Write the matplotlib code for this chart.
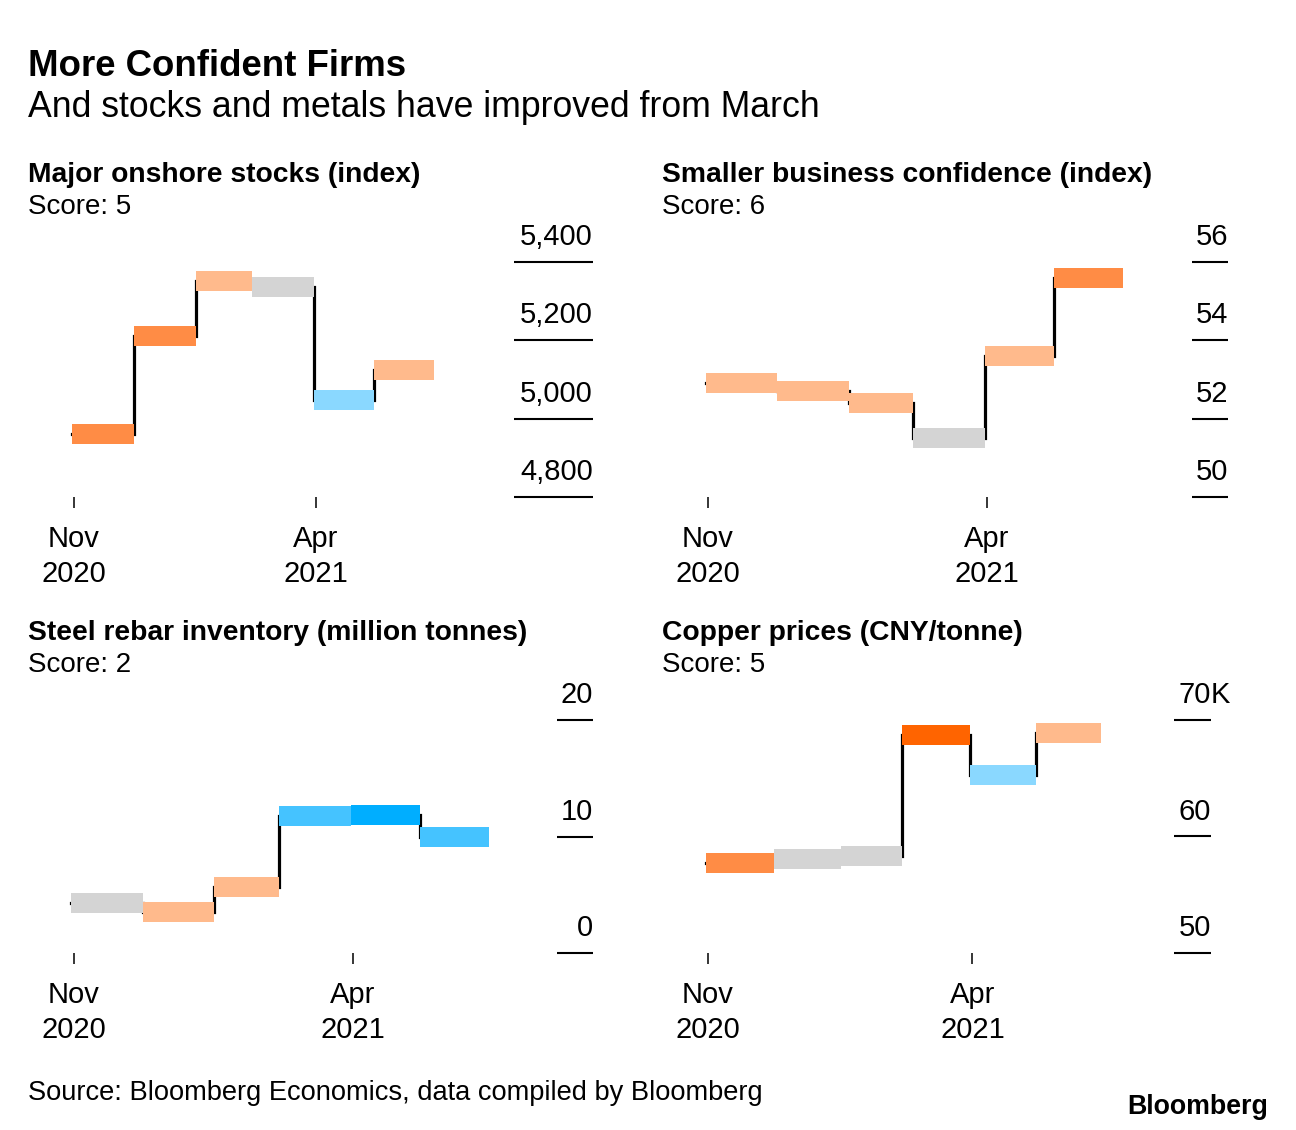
import numpy as np
import matplotlib
matplotlib.use("Agg")
import matplotlib.pyplot as plt
import matplotlib.dates as mdates
import matplotlib.transforms as mtransforms

plt.rcParams['font.family'] = ['Liberation Sans', 'DejaVu Sans']

# ---------------- data ----------------
dates = np.array(["2020-11-30", "2020-12-31", "2021-01-31", "2021-02-28",
                  "2021-03-31", "2021-04-30"], dtype="datetime64[D]")
end_date = np.datetime64("2021-05-30")
xtick_dates = np.array(["2020-12-01", "2021-04-01"], dtype="datetime64[D]")
xtick_labels = ["Nov\n2020", "Apr\n2021"]

stocks = [4960, 5211, 5352, 5337, 5048, 5123]
sme = [52.9, 52.7, 52.4, 51.5, 53.6, 55.6]
rebar = [4.3, 3.5, 5.7, 11.8, 11.85, 10.0]
copper = [57.7, 58.1, 58.3, 68.7, 65.3, 68.9]

DO = "#FF8C45"   # dark orange
PE = "#FFBA8C"   # peach
GR = "#D4D4D4"   # gray
LB = "#8AD8FF"   # light blue
MB = "#45C3FF"   # mid blue
DB = "#00AEFF"   # deep blue
RO = "#FF6400"   # deep orange

stocks_colors = [DO, DO, PE, GR, LB, PE]
sme_colors = [PE, PE, PE, GR, PE, DO]
rebar_colors = [GR, PE, PE, MB, DB, MB]
copper_colors = [DO, GR, GR, RO, LB, PE]

stocks_ticks = [4800, 5000, 5200, 5400]
stocks_ticklabels = ["4,800", "5,000", "5,200", "5,400"]
sme_ticks = [50, 52, 54, 56]
sme_ticklabels = ["50", "52", "54", "56"]
rebar_ticks = [0, 10, 20]
rebar_ticklabels = ["0", "10", "20"]
copper_ticks = [50, 60, 70]
copper_ticklabels = ["50", "60", "70"]
copper_suffix = "K"

titles = ["Major onshore stocks (index)", "Smaller business confidence (index)",
          "Steel rebar inventory (million tonnes)", "Copper prices (CNY/tonne)"]
scores = ["Score: 5", "Score: 6", "Score: 2", "Score: 5"]

# ---------------- layout (pixels) ----------------
W, H = 1296, 1130
fig = plt.figure(figsize=(W / 100, H / 100), dpi=100)
fig.patch.set_facecolor("white")

def fy(py):
    return 1 - py / H

panels = [
    dict(values=stocks, colors=stocks_colors, ticks=stocks_ticks, labels=stocks_ticklabels,
         suffix=None, rect=(71.5, 433.5, 262, 497), tl=(514, 593),
         title=titles[0], score=scores[0], tx=28, ty=182),
    dict(values=sme, colors=sme_colors, ticks=sme_ticks, labels=sme_ticklabels,
         suffix=None, rect=(705.7, 1123.1, 262, 497), tl=(1192, 1228),
         title=titles[1], score=scores[1], tx=662, ty=182),
    dict(values=rebar, colors=rebar_colors, ticks=rebar_ticks, labels=rebar_ticklabels,
         suffix=None, rect=(71.3, 489.2, 720, 953), tl=(557, 593),
         title=titles[2], score=scores[2], tx=28, ty=640),
    dict(values=copper, colors=copper_colors, ticks=copper_ticks, labels=copper_ticklabels,
         suffix=copper_suffix, rect=(705.8, 1101.3, 720, 953), tl=(1174, 1211),
         title=titles[3], score=scores[3], tx=662, ty=640),
]

xnum = mdates.date2num(dates)
xend = mdates.date2num(end_date)
xstarts = xnum
xends = np.append(xnum[1:], xend)

for p in panels:
    x0, x1, ytop, ybot = p["rect"]
    ax = fig.add_axes([x0 / W, fy(ybot), (x1 - x0) / W, (ybot - ytop) / H])
    ax.set_facecolor("none")
    for s in ax.spines.values():
        s.set_visible(False)
    ax.set_xlim(xnum[0], xend)
    ax.set_ylim(p["ticks"][0], p["ticks"][-1])

    # step line under bars
    ax.plot(xnum, p["values"], drawstyle="steps-post", color="black", lw=2.3,
            solid_capstyle="projecting", solid_joinstyle="miter", zorder=1, clip_on=False)
    # bars
    ax.hlines(p["values"], xstarts, xends, colors=p["colors"], linewidth=14.4,
              capstyle="butt", zorder=2, clip_on=False)

    # y ticks: short lines with label above
    fx0 = (p["tl"][0] - x0) / (x1 - x0)
    fx1 = (p["tl"][1] - x0) / (x1 - x0)
    ytrans = ax.get_yaxis_transform()
    ltrans = mtransforms.offset_copy(ytrans, fig=fig, x=0, y=17, units="dots")
    for i, (v, lab) in enumerate(zip(p["ticks"], p["labels"])):
        ax.plot([fx0, fx1], [v, v], transform=ytrans, color="black", lw=1.5,
                clip_on=False, solid_capstyle="butt")
        ax.text(fx1, v, lab, transform=ltrans, ha="right", va="baseline",
                fontsize=21, color="black")
        if p["suffix"] and i == len(p["ticks"]) - 1:
            ax.text(fx1, v, p["suffix"], transform=ltrans, ha="left", va="baseline",
                    fontsize=21, color="black")
    ax.set_yticks([])

    ax.set_xticks(mdates.date2num(xtick_dates))
    ax.set_xticklabels(xtick_labels, fontsize=21, linespacing=1.32)
    ax.tick_params(axis="x", length=8, width=1.1, pad=12, color="black",
                   labelcolor="black", direction="out")

    fig.text(p["tx"] / W, fy(p["ty"]), p["title"], fontsize=20.3, fontweight="bold",
             va="baseline", ha="left")
    fig.text(p["tx"] / W, fy(p["ty"] + 32), p["score"], fontsize=20,
             va="baseline", ha="left")

fig.text(28 / W, fy(76), "More Confident Firms", fontsize=26.4, fontweight="bold",
         va="baseline", ha="left")
fig.text(28 / W, fy(117), "And stocks and metals have improved from March", fontsize=25.7,
         va="baseline", ha="left")
fig.text(28 / W, fy(1100), "Source: Bloomberg Economics, data compiled by Bloomberg",
         fontsize=19.6, va="baseline", ha="left")
fig.text(1268 / W, fy(1114), "Bloomberg", fontsize=19.3, fontweight="bold",
         va="baseline", ha="right")

fig.savefig("out.png", dpi=100, facecolor="white")
